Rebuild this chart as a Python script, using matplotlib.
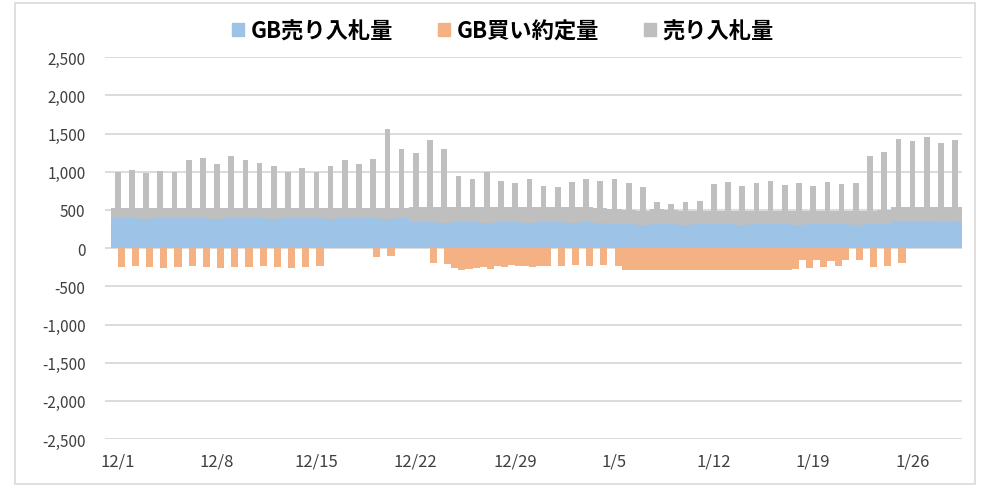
import matplotlib
matplotlib.use("Agg")
import matplotlib.pyplot as plt
from matplotlib.patches import Rectangle, Patch
from matplotlib.ticker import FuncFormatter
import numpy as np

plt.rcParams['font.family'] = ['Noto Sans CJK JP', 'DejaVu Sans']

# one value per day, 12/1 .. 1/29
days = list(range(60))
tick_pos = [0, 7, 14, 21, 28, 35, 42, 49, 56]
tick_labels = ['12/1', '12/8', '12/15', '12/22', '12/29', '1/5', '1/12', '1/19', '1/26']

# GB売り入札量 (daily level)
gb_sell = [390, 395, 385, 400, 390, 395, 390, 385, 400, 395,
           390, 385, 395, 390, 400, 385, 390, 395, 390, 385,
           390, 345, 340, 335, 345, 340, 335, 345, 340, 335,
           340, 345, 335, 340, 330, 315, 310, 305, 315, 310,
           305, 310, 315, 310, 305, 310, 315, 310, 305, 310,
           315, 310, 305, 310, 320, 350, 355, 350, 345, 355]

# 売り入札量: daily base and daily peak (stacked above GB売り入札量)
sell_low = [130, 125, 135, 120, 130, 125, 130, 135, 120, 125,
            130, 135, 125, 130, 120, 135, 130, 125, 130, 135,
            130, 195, 200, 205, 195, 200, 210, 195, 200, 205,
            200, 195, 205, 200, 190, 195, 190, 185, 195, 190,
            185, 180, 175, 180, 185, 180, 175, 180, 185, 180,
            175, 180, 185, 180, 185, 190, 185, 190, 195, 185]
sell_high = [1000, 1020, 980, 1010, 1000, 1150, 1180, 1100, 1200, 1150,
             1120, 1080, 1000, 1050, 1000, 1080, 1150, 1100, 1170, 1560,
             1300, 1250, 1420, 1300, 950, 900, 1000, 880, 850, 900,
             820, 800, 870, 900, 880, 900, 850, 800, 600, 580,
             600, 620, 840, 860, 820, 850, 880, 830, 850, 820,
             860, 840, 850, 1200, 1260, 1430, 1400, 1450, 1380, 1420]

# GB買い約定量, first and second half of each day
gb_buy_am = [0, 0, 0, 0, 0, 0, 0, 0, 0, 0,
             0, 0, 0, 0, 0, 0, 0, 0, 0, 0,
             0, 0, 0, 0, -260, -270, -250, -230, -220, -240,
             -230, 0, 0, 0, 0, 0, -280, -290, -285, -280,
             -290, -285, -280, -290, -285, -280, -290, -285, -270, -260,
             -250, -240, 0, 0, 0, 0, 0, 0, 0, 0]
gb_buy_pm = [-250, -240, -250, -260, -250, -240, -250, -255, -245, -250,
             -240, -250, -260, -250, -240, 0, 0, 0, -120, -100,
             0, 0, -200, -210, -280, -260, -270, -250, -240, -250,
             -240, -230, -220, -230, -220, -240, -290, -285, -280, -290,
             -285, -280, -290, -285, -280, -290, -285, -280, -160, -150,
             -170, -160, -150, -250, -240, -200, 0, 0, 0, 0]

blue = '#9DC3E6'
orange = '#F4B183'
gray = '#BFBFBF'

fig = plt.figure(figsize=(9.9, 4.89), dpi=100)
fig.patches.append(Rectangle((0.015, 0.008), 0.97, 0.984, transform=fig.transFigure,
                             fill=False, edgecolor='#D9D9D9', linewidth=1.2))
ax = fig.add_axes([0.106, 0.100, 0.866, 0.781])

x = np.array(days)
gb_sell = np.array(gb_sell)
sell_low = np.array(sell_low)
sell_high = np.array(sell_high)

ax.bar(x, gb_sell, width=1.0, color=blue, linewidth=0, zorder=3)
ax.bar(x, sell_low, width=1.0, bottom=gb_sell, color=gray, linewidth=0, zorder=3)
ax.bar(x, sell_high - gb_sell - sell_low, width=0.4, bottom=gb_sell + sell_low,
       color=gray, linewidth=0, zorder=3)
ax.bar(x - 0.25, gb_buy_am, width=0.5, color=orange, linewidth=0, zorder=3)
ax.bar(x + 0.25, gb_buy_pm, width=0.5, color=orange, linewidth=0, zorder=3)

ax.set_xlim(-0.9, 59.5)
ax.set_ylim(-2500, 2500)
ax.set_yticks(range(-2500, 2501, 500))
ax.yaxis.set_major_formatter(FuncFormatter(lambda v, p: f'{int(v):,}'))
ax.set_xticks(tick_pos)
ax.set_xticklabels(tick_labels)
ax.grid(axis='y', color='#D9D9D9', linewidth=1.3, zorder=0)
for s in ax.spines.values():
    s.set_visible(False)
ax.tick_params(axis='both', length=0, labelsize=11, colors='#404040')
ax.tick_params(axis='x', labelsize=12, pad=10)
ax.tick_params(axis='y', pad=14)

handles = [Patch(color=blue), Patch(color=orange), Patch(color=gray)]
fig.legend(handles, ['GB売り入札量', 'GB買い約定量', '売り入札量'],
           loc='center', bbox_to_anchor=(0.508, 0.935), ncol=3, frameon=False,
           prop={'size': 16, 'weight': 'bold'}, handlelength=0.55, handleheight=0.55,
           handletextpad=0.3, columnspacing=2.0)

fig.savefig('out.png', dpi=100)
